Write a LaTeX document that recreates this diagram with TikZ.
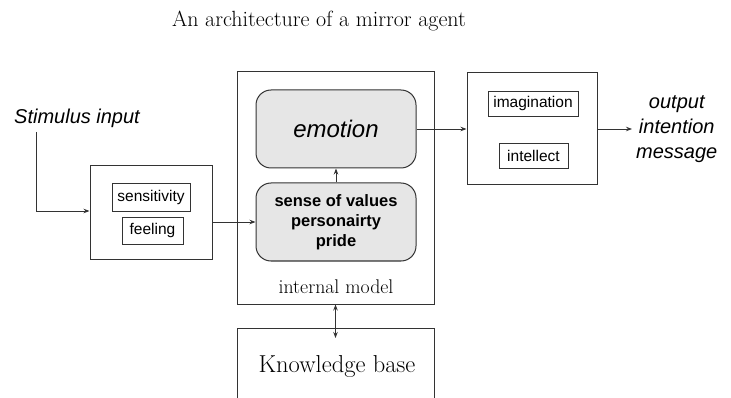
\documentclass[tikz,border=0pt]{standalone}
\usepackage{fontspec}
\newfontfamily\sansf{Liberation Sans}
\usetikzlibrary{arrows.meta}
\definecolor{linec}{HTML}{333333}
\definecolor{fillg}{HTML}{E6E6E6}
\tikzset{
  box/.style={draw=linec, line width=1pt, rectangle, inner sep=0pt},
  smallbox/.style={draw=linec, line width=0.9pt, rectangle, inner sep=0pt, font=\sansf\fontsize{15.5}{18}\selectfont},
  rbox/.style={draw=linec, line width=1pt, fill=fillg, rounded corners=15pt, minimum width=160pt, minimum height=78pt, inner sep=0pt, align=center},
  arr/.style={draw=linec, line width=0.9pt, -{Stealth[length=6pt,width=4.5pt]}},
  darr/.style={draw=linec, line width=0.9pt, {Stealth[length=6pt,width=4.5pt]}-{Stealth[length=6pt,width=4.5pt]}},
  serif/.style={font=\fontsize{#1}{#1}\selectfont}
}
\begin{document}
\begin{tikzpicture}[x=1pt,y=-1pt]
\useasboundingbox (0,0) rectangle (731,398);
\clip (0,0) rectangle (731,398);
% title
\node[serif=22] (title) at (319,21) {An architecture of a mirror agent};
% internal model
\node[box, minimum width=197pt, minimum height=232pt] (im) at (335.5,188) {};
\node[rbox, font=\sansf\itshape\fontsize{24}{26}\selectfont] (emo) at (336,129) {emotion};
\node[rbox, font=\sansf\bfseries\fontsize{16.5}{20}\selectfont] (sov) at (336,222) {sense of values\\personairty\\pride};
\node[serif=19.8] (iml) at (336,287) {internal model};
% knowledge base
\node[box, minimum width=197pt, minimum height=100pt, anchor=north] (kb) at (335.5,328) {};
\node[serif=24.5] (kbl) at (337,366) {Knowledge base};
% left box
\node[box, minimum width=122pt, minimum height=94pt] (lb) at (151,213) {};
\node[smallbox, minimum width=78pt, minimum height=28pt] (sens) at (151,197) {sensitivity};
\node[smallbox, minimum width=61pt, minimum height=27pt] (feel) at (152.5,230.5) {feeling};
% right box
\node[box, minimum width=130pt, minimum height=112pt] (rb) at (532,129) {};
\node[smallbox, minimum width=90pt, minimum height=25pt] (imag) at (533,103.5) {imagination};
\node[smallbox, minimum width=69pt, minimum height=25pt] (intel) at (533.5,155.5) {intellect};
% texts
\node[font=\sansf\itshape\fontsize{20}{25}\selectfont] (stim) at (77,118) {Stimulus input};
\node[font=\sansf\itshape\fontsize{20}{25}\selectfont, align=center, inner sep=0pt, anchor=west] (out) at (636,129) {output\\intention\\message};
\coordinate (c1) at (36,132);
% connectors
\draw[arr] (c1) |- ([yshift=2pt]lb.west);
\draw[arr] (lb.east |- sov.west) -- (sov.west);
\draw[arr] (sov.north) -- (emo.south);
\draw[arr] (emo.east) -- (emo.east -| rb.west);
\draw[arr] (rb.east) -- ([xshift=-4pt]out.west);
\draw[darr] (im.south) -- ([yshift=-10pt]kb.north);
\end{tikzpicture}
\end{document}
